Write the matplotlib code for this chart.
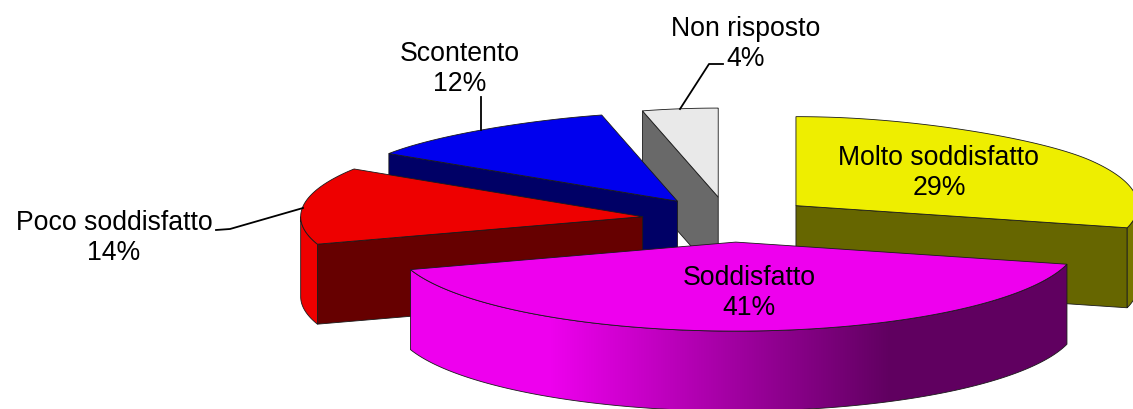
import numpy as np
import matplotlib
matplotlib.use('Agg')
import matplotlib.pyplot as plt
from matplotlib.patches import Polygon

plt.rcParams['font.family'] = ['Liberation Sans', 'DejaVu Sans']

# data, clockwise from 12 o'clock
labels = ['Molto soddisfatto', 'Soddisfatto', 'Poco soddisfatto', 'Scontento', 'Non risposto']
values = [29, 41, 14, 12, 4]

top_colors = ['#eeee00', '#ee00ee', '#ee0000', '#0000ee', '#e9e9e9']
side_colors = ['#666600', '#660066', '#660000', '#000066', '#696969']
rim_colors = ['#777700', '#ee00ee', '#ee0000', '#000066', '#696969']
label_pos = [(939, 173), (749, 293), (114, 238), (460, 69), (746, 44)]
nudge_x = [0, 5, 0, 0, 1]

# pie geometry in pixels
cx, cy = 728, 219.5
explode_x, explode_y = 86, 22.6
rx, ry = 342, 89
depth = 80


def rim(apex, deg):
    a = np.radians(deg)
    c = np.cos(a)
    # back of the pie is a bit narrower (perspective)
    persp = 1 - 0.11 * np.clip((c - 0.5) / 0.47, 0, 1) ** 2
    return np.column_stack([apex[0] + rx * np.sin(a) * persp, apex[1] - ry * c])


def wall(pts):
    return np.vstack([pts, (pts + [0, depth])[::-1]])


fig = plt.figure(figsize=(11.33, 4.09), dpi=100)
ax = fig.add_axes([0, 0, 1, 1])

edges = np.cumsum([0] + values) * 3.6
shapes = []
for i in range(len(values)):
    a0, a1 = edges[i], edges[i + 1]
    mid = np.radians((a0 + a1) / 2)
    apex = np.array([cx + nudge_x[i] + explode_x * np.sin(mid), cy - explode_y * np.cos(mid)])
    shapes.append((i, a0, a1, apex))

draw_order = [4, 3, 0, 2, 1]
z = 1
for i, a0, a1, apex in [shapes[k] for k in draw_order]:
    arc = rim(apex, np.linspace(a0, a1, 200))
    ec = '#1a1a1a'

    # radial wall that faces the viewer
    if i in (0, 3, 4, 2):
        edge_deg = a1 if i == 0 else a0
        end = rim(apex, np.array([edge_deg]))[0]
        ax.add_patch(Polygon(wall(np.array([apex, end])), fc=side_colors[i], ec=ec, lw=0.6, zorder=z))

    # outer wall, front half only
    lo, hi = max(a0, 90), min(a1, 270)
    if lo < hi:
        front = rim(apex, np.linspace(lo, hi, 200))
        if i == 1:
            p = Polygon(wall(front), fc='none', ec=ec, lw=0.6, zorder=z + 0.2)
            ax.add_patch(p)
            xs = np.arange(0, 1133)
            lev = np.interp(xs, [550, 890], [1, 0])
            grad = np.zeros((1, len(xs), 3))
            grad[0, :, 0] = (0x60 + lev * (0xee - 0x60)) / 255
            grad[0, :, 2] = grad[0, :, 0]
            im = ax.imshow(grad, extent=[0, 1133, 409, 0], aspect='auto', zorder=z + 0.1)
            im.set_clip_path(Polygon(wall(front), transform=ax.transData))
        else:
            ax.add_patch(Polygon(wall(front), fc=rim_colors[i], ec=ec, lw=0.6, zorder=z))

    ax.add_patch(Polygon(np.vstack([apex, arc]), fc=top_colors[i], ec=ec, lw=0.6, zorder=z + 0.5))
    z += 1

# leader lines
ax.plot([481, 481], [97, 130], color='black', lw=1.3, zorder=10)
ax.plot([723, 709, 680], [64, 64, 109], color='black', lw=1.3, zorder=10)
ax.plot([216, 230, 303], [230, 229, 208], color='black', lw=1.3, zorder=10)

for name, val, pos in zip(labels, values, label_pos):
    ax.text(pos[0], pos[1], f'{name}\n{val}%', ha='center', va='center', fontsize=19.2,
            linespacing=1.2, color='black', zorder=11)

ax.set_xlim(0, 1133)
ax.set_ylim(409, 0)
ax.axis('off')
fig.savefig('out.png', dpi=100)
